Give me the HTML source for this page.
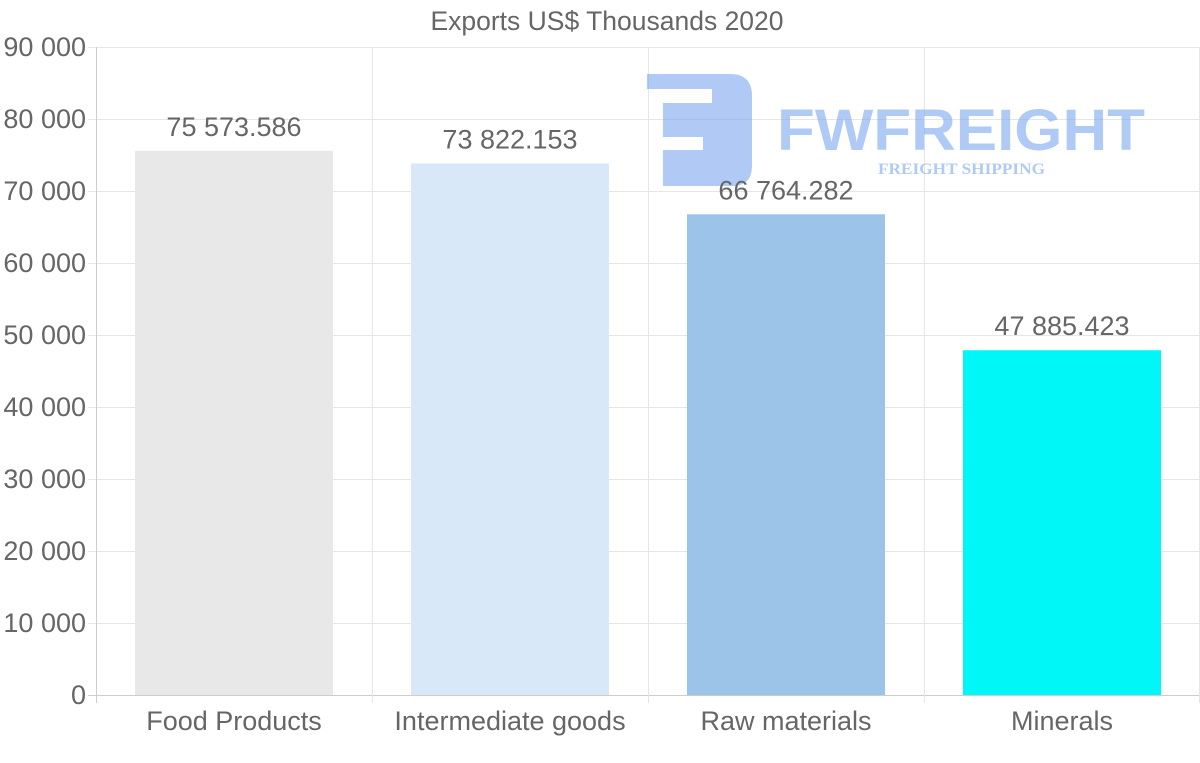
<!DOCTYPE html>
<html><head><meta charset="utf-8"><style>
html,body{margin:0;padding:0;background:#fff;}
svg{display:block;font-family:"Liberation Sans",Arial,sans-serif;}
</style></head><body>
<svg id="chart" width="1200" height="763">
<text x="607" y="30" text-anchor="middle" font-size="26.5" fill="#666">Exports US$ Thousands 2020</text>
<g id="grid"></g>
<g id="bars"></g>
<g opacity="0.6">
<path d="M647,74 H730 Q752,74 752,96 V166 Q752,186 732,186 H663 V150 H703 V137 H663 V103 H712 V89 H647 Z" fill="#7ba7ef"/>
<text x="777" y="150" font-size="58" font-weight="bold" fill="#7ba7ef" textLength="368" lengthAdjust="spacingAndGlyphs">FWFREIGHT</text>
<text x="878" y="174" font-size="16" font-weight="bold" font-family="Liberation Serif,serif" fill="#7ba7ef" textLength="167" lengthAdjust="spacingAndGlyphs">FREIGHT SHIPPING</text>
</g>
<g id="labels"></g>
</svg>
<script>
const categories=["Food Products","Intermediate goods","Raw materials","Minerals"];
const values=[75573.586,73822.153,66764.282,47885.423];
const valueLabels=["75 573.586","73 822.153","66 764.282","47 885.423"];
const colors=["#e8e8e8","#d8e8f9","#9bc4e8","#00f7f7"];
const yTicks=[0,10000,20000,30000,40000,50000,60000,70000,80000,90000];
const yTickLabels=["0","10 000","20 000","30 000","40 000","50 000","60 000","70 000","80 000","90 000"];
const NS="http://www.w3.org/2000/svg";
const L=96,R=1200,T=47,B=695,yMax=90000;
const y=v=>B-(v/yMax)*(B-T);
const bw=(R-L)/categories.length;
const x=i=>L+bw*i;
const grid=document.getElementById('grid'),bars=document.getElementById('bars'),labels=document.getElementById('labels');
function mk(tag,attrs,parent){const e=document.createElementNS(NS,tag);for(const k in attrs)e.setAttribute(k,attrs[k]);parent.appendChild(e);return e;}
yTicks.forEach((t,i)=>{
  const yy=y(t)+0.5;
  const ln=mk('line',{x1:88,x2:R,y1:yy,y2:yy,stroke:t===0?'#ccc':'#e6e6e6','stroke-width':1},grid);
  
  
  const tx=mk('text',{x:86,y:y(t)+9,'text-anchor':'end','font-size':27,fill:'#666'},grid);
  tx.textContent=yTickLabels[i];
  
  
});
for(let i=0;i<=categories.length;i++){
  const xx=Math.min(x(i),R-1)+0.5;
  const ln=mk('line',{x1:xx,x2:xx,y1:T,y2:703,stroke:i===0?'#ccc':'#e6e6e6','stroke-width':1},grid);
  
  
}
categories.forEach((c,i)=>{
  const cx=x(i)+bw/2,w=198;
  const r=mk('rect',{x:cx-w/2,y:y(values[i]),width:w,height:B-y(values[i]),fill:colors[i]},bars);
  
  
  const vl=mk('text',{x:cx,y:y(values[i])-15,'text-anchor':'middle','font-size':27,fill:'#666'},labels);
  vl.textContent=valueLabels[i];
  
  
  const cl=mk('text',{x:cx,y:730,'text-anchor':'middle','font-size':27,fill:'#666'},grid);
  cl.textContent=c;
  
  
});
</script>
</body></html>
